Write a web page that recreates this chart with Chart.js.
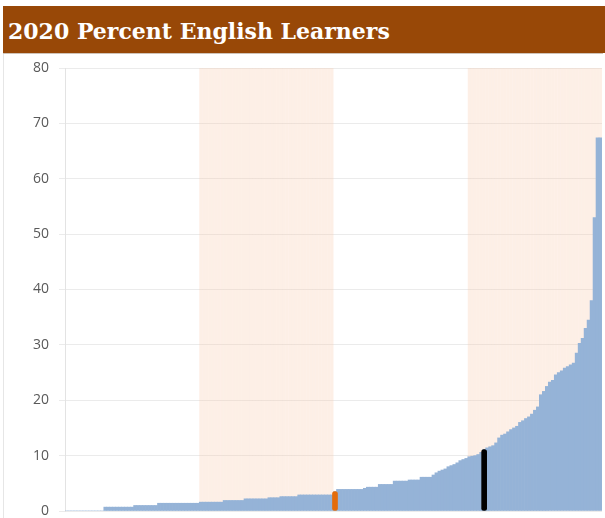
<!DOCTYPE html>
<html><head><meta charset="utf-8">
<script src="https://cdn.jsdelivr.net/npm/chart.js@4"></script>
<style>
html,body{margin:0;padding:0;background:#fff;}
body{width:605px;height:518px;position:relative;overflow:hidden;}
#wrap{position:absolute;left:0;top:0;width:605px;height:518px;}
#banner{position:absolute;left:3px;top:6px;width:602px;height:47px;background:#984807;z-index:2;}
#title{position:absolute;left:8px;top:20px;color:#fff;font:bold 22px 'DejaVu Serif',serif;line-height:22px;white-space:nowrap;z-index:3;}
#rule{position:absolute;left:3px;top:53px;width:600px;height:1px;background:#cfc3b8;z-index:2;}
#frame{position:absolute;left:3px;top:54px;width:1px;height:464px;background:#e6e6e6;z-index:2;}
</style></head>
<body>
<div id="wrap"><canvas id="c" width="605" height="518"></canvas></div>
<div id="banner"></div>
<div id="title">2020 Percent English Learners</div>
<div id="rule"></div>
<div id="frame"></div>
<script>
// Percent English learners per district, sorted ascending (180 districts)
const pctEL = [
  0,0,0,0,0,0,0,0,0,0,0,0,0,
  0.7,0.7,0.7,0.7,0.7,0.7,0.7,0.7,0.7,0.7,
  1.0,1.0,1.0,1.0,1.0,1.0,1.0,1.0,
  1.4,1.4,1.4,1.4,1.4,1.4,1.4,1.4,1.4,1.4,1.4,1.4,1.4,1.4,
  1.6,1.6,1.6,1.6,1.6,1.6,1.6,1.6,
  1.9,1.9,1.9,1.9,1.9,1.9,1.9,
  2.2,2.2,2.2,2.2,2.2,2.2,2.2,2.2,
  2.4,2.4,2.4,2.4,
  2.6,2.6,2.6,2.6,2.6,2.6,
  2.9,2.9,2.9,2.9,2.9,2.9,2.9,2.9,2.9,2.9,2.9,2.9,
  3.5,
  3.9,3.9,3.9,3.9,3.9,3.9,3.9,3.9,3.9,
  4.1,
  4.3,4.3,4.3,4.3,
  4.8,4.8,4.8,4.8,4.8,
  5.4,5.4,5.4,5.4,5.4,
  5.6,5.6,5.6,5.6,
  6.1,6.1,6.1,6.1,
  6.5,6.9,7.2,7.4,7.6,
  8.0,8.2,8.4,8.7,
  9.1,9.3,9.5,
  9.8,9.9,10.0,10.2,10.6,
  11.1,
  11.4,11.6,11.8,
  12.3,
  13.2,
  13.7,13.9,
  14.3,14.7,15.0,15.3,
  16.0,16.3,16.7,17.0,
  17.5,18.2,18.8,
  21.0,21.6,
  22.5,23.3,23.6,
  24.6,25.0,25.3,
  25.8,26.1,26.4,26.7,
  28.5,
  30.3,31.2,33.0,
  34.5,
  38.0,
  53.0,
  67.4,67.4
];
const districts = pctEL.map((_, i) => String(i + 1));
// highlighted districts (median district, selected district)
const markIndex = [90, 140];
const markValue = [3.5, 11.1];
// shaded quartile ranges (2nd and 4th quartiles), index ranges
const quartileBands = [[45, 89], [135, 179]];
const yTicks = [0, 10, 20, 30, 40, 50, 60, 70, 80];

const markColors = ['#E46C0A', '#000000'];
const markData = districts.map(() => null);
const markBg = districts.map(() => 'rgba(0,0,0,0)');
markIndex.forEach((idx, k) => { markData[idx] = markValue[k]; markBg[idx] = markColors[k]; });
const yMax = yTicks[yTicks.length - 1];
const bandData = districts.map(() => null);
quartileBands.forEach(([a, b]) => { for (let i = a; i <= b; i++) bandData[i] = yMax; });

new Chart(document.getElementById('c'), {
  type: 'bar',
  data: {
    labels: districts,
    datasets: [
      { label: 'Marker', data: markData, backgroundColor: markBg, barThickness: 5,
        borderRadius: 2.5, borderSkipped: false, borderWidth: 0, grouped: false, order: 0 },
      { label: 'Percent English Learners', data: pctEL, backgroundColor: '#95B3D7',
        categoryPercentage: 1, barPercentage: 1, borderWidth: 0, grouped: false, order: 1 },
      { label: 'Quartile', data: bandData, backgroundColor: 'rgba(248,203,173,0.3)',
        categoryPercentage: 1, barPercentage: 1, borderWidth: 0, inflateAmount: 0, grouped: false, order: 2 }
    ]
  },
  options: {
    responsive: false, animation: false, maintainAspectRatio: false,
    layout: { padding: { left: 0, right: 3, top: 68, bottom: 7 } },
    plugins: { legend: { display: false }, tooltip: { enabled: false } },
    scales: {
      x: { display: false, offset: true },
      y: {
        min: 0, max: yMax,
        afterBuildTicks: s => { s.ticks = yTicks.map(v => ({ value: v })); },
        ticks: { color: '#595959', font: { family: 'Open Sans', size: 14 }, padding: 10 },
        grid: { color: '#ebebeb', tickLength: 6, lineWidth: 1 },
        border: { display: true, color: '#e3e3e3' },
        afterFit: s => { s.width = 65; s.paddingTop = 0; s.paddingBottom = 0; }
      }
    }
  }
});
</script>
</body></html>
